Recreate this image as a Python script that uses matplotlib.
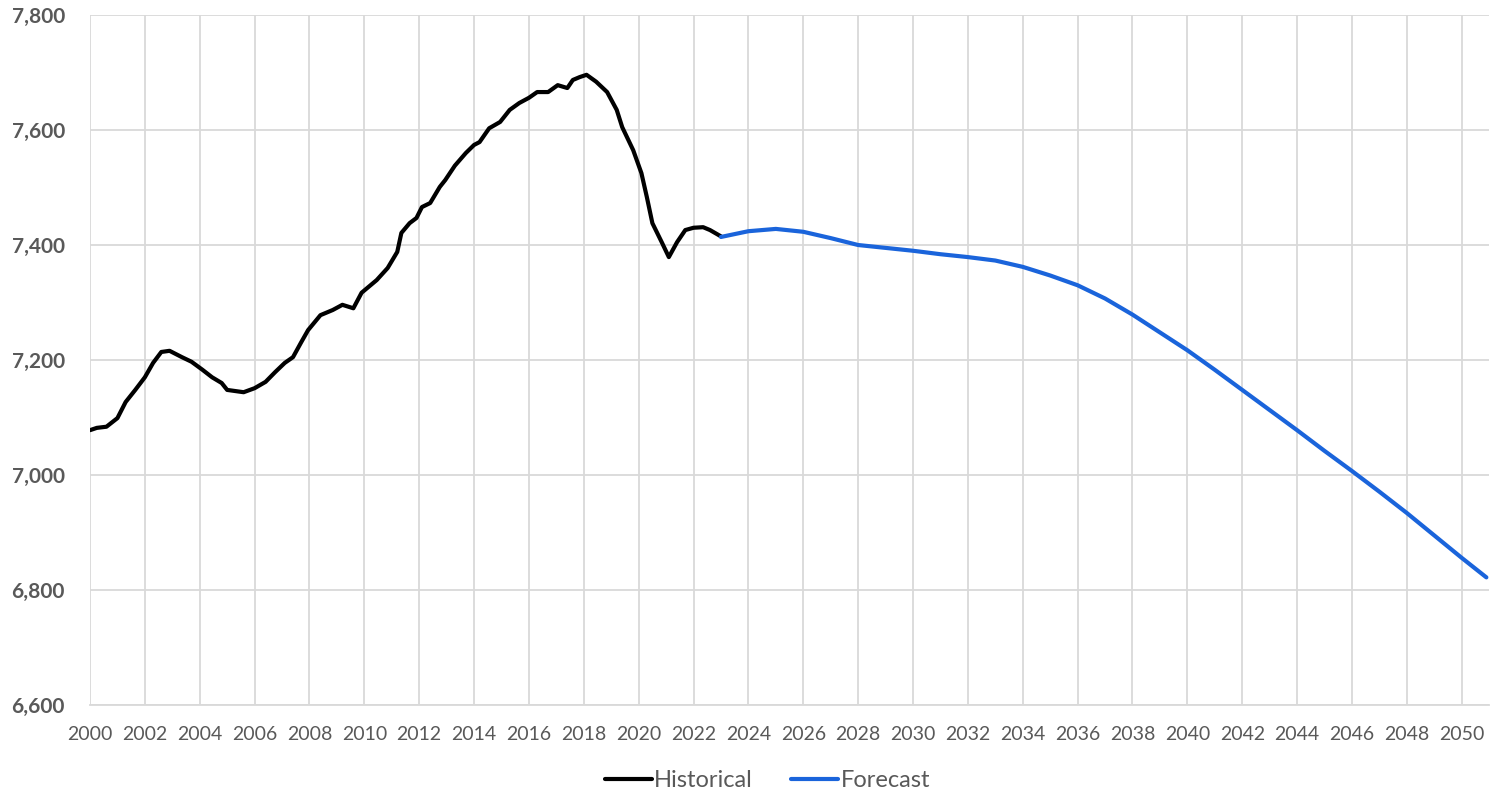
import numpy as np
import matplotlib.pyplot as plt
from matplotlib.ticker import FuncFormatter, MultipleLocator

# Historical series (year, value)
hist_years = [2000.0, 2000.25, 2000.6, 2001.0, 2001.3, 2001.65, 2002.0, 2002.3, 2002.6, 2002.9,
              2003.35, 2003.7, 2004.1, 2004.45, 2004.8, 2005.0, 2005.6, 2006.0, 2006.4, 2006.75,
              2007.1, 2007.4, 2007.7, 2007.95, 2008.4, 2008.85, 2009.2, 2009.6, 2009.9, 2010.45,
              2010.85, 2011.2, 2011.35, 2011.65, 2011.9, 2012.1, 2012.4, 2012.75, 2012.95, 2013.3,
              2013.7, 2014.0, 2014.2, 2014.55, 2014.95, 2015.3, 2015.65, 2016.0, 2016.3, 2016.7,
              2017.05, 2017.4, 2017.6, 2017.85, 2018.1, 2018.45, 2018.85, 2019.2, 2019.4, 2019.8,
              2020.1, 2020.3, 2020.5, 2020.85, 2021.1, 2021.4, 2021.7, 2022.0, 2022.35, 2022.6,
              2023.0]
hist_values = [7078, 7082, 7084, 7099, 7127, 7148, 7170, 7195, 7214, 7216,
               7205, 7197, 7183, 7170, 7160, 7148, 7144, 7151, 7162, 7179,
               7195, 7205, 7231, 7252, 7278, 7287, 7296, 7290, 7317, 7339,
               7360, 7388, 7421, 7438, 7447, 7466, 7473, 7501, 7513, 7538,
               7560, 7574, 7579, 7603, 7614, 7635, 7647, 7656, 7666, 7666,
               7678, 7673, 7687, 7692, 7696, 7684, 7666, 7635, 7605, 7565,
               7525, 7483, 7438, 7404, 7379, 7405, 7426, 7430, 7431, 7426,
               7415]

# Forecast series
fc_years = [2023, 2024, 2025, 2026, 2027, 2028, 2029, 2030, 2031, 2032, 2033, 2034, 2035,
            2036, 2037, 2038, 2039, 2040, 2041, 2042, 2043, 2044, 2045, 2046, 2047, 2048,
            2049, 2050, 2050.9]
fc_values = [7414, 7424, 7428, 7423, 7412, 7400, 7395, 7390, 7384, 7379, 7373, 7362, 7347,
             7330, 7307, 7279, 7248, 7217, 7183, 7148, 7113, 7078, 7042, 7007, 6971, 6934,
             6895, 6856, 6822]

plt.rcParams['font.family'] = ['Lato', 'DejaVu Sans']

fig = plt.figure(figsize=(14.9, 7.98), dpi=100)
ax = fig.add_axes([0.0604, 0.1165, 0.9390, 0.8647])

ax.plot(hist_years, hist_values, color='black', linewidth=3, label='Historical',
        solid_capstyle='round', solid_joinstyle='round')
ax.plot(fc_years, fc_values, color='#1a64db', linewidth=3, label='Forecast',
        solid_capstyle='round', solid_joinstyle='round')

ax.set_xlim(2000, 2051)
ax.set_ylim(6600, 7800)
ax.xaxis.set_major_locator(MultipleLocator(2))
ax.yaxis.set_major_locator(MultipleLocator(200))
ax.yaxis.set_major_formatter(FuncFormatter(lambda v, p: f'{int(v):,}'))

ax.grid(True, color='#d9d9d9', linewidth=1.3)
ax.set_axisbelow(True)
for s in ['top', 'right', 'left']:
    ax.spines[s].set_visible(False)
ax.spines['bottom'].set_color('#d9d9d9')
ax.spines['bottom'].set_linewidth(1.3)

ax.tick_params(axis='both', length=0)
ax.tick_params(axis='x', labelsize=14, labelcolor='#595959', pad=15)
ax.tick_params(axis='y', labelsize=15, labelcolor='#595959', pad=18)
for lbl in ax.get_yticklabels():
    lbl.set_fontweight('bold')

leg = fig.legend(loc='lower center', bbox_to_anchor=(0.515, -0.018), ncol=2, frameon=False,
                 fontsize=17, handlelength=2.0, handletextpad=0.1, columnspacing=1.6)
for t in leg.get_texts():
    t.set_color('#595959')

fig.savefig('out.png', dpi=100)
